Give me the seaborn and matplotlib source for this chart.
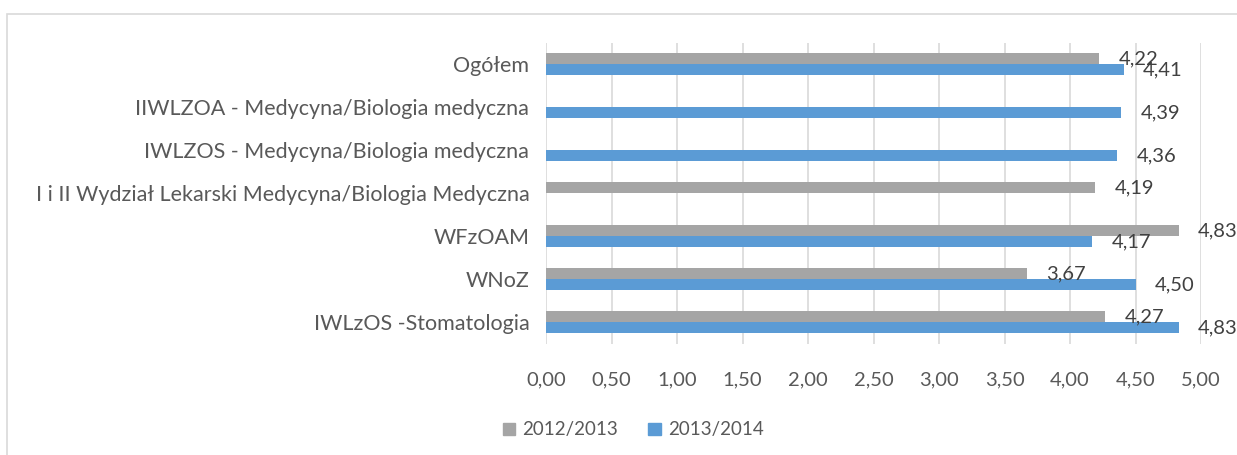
import pandas as pd
import matplotlib.pyplot as plt
import seaborn as sns
from matplotlib.patches import Rectangle

sns.set_style("white")
plt.rcParams["font.family"] = ["Lato", "DejaVu Sans"]

CATEGORIES = [
    "Ogółem",
    "IIWLZOA - Medycyna/Biologia medyczna",
    "IWLZOS - Medycyna/Biologia medyczna",
    "I i II Wydział Lekarski Medycyna/Biologia Medyczna",
    "WFzOAM",
    "WNoZ",
    "IWLzOS -Stomatologia",
]
YEARS = ["2012/2013", "2013/2014"]
VALUES_2012 = [4.22, None, None, 4.19, 4.83, 3.67, 4.27]
VALUES_2013 = [4.41, 4.39, 4.36, None, 4.17, 4.50, 4.83]
COLORS = {"2012/2013": "#A5A5A5", "2013/2014": "#5B9BD5"}
TEXT = "#595959"

rows = []
for cat, v1, v2 in zip(CATEGORIES, VALUES_2012, VALUES_2013):
    rows.append({"kat": cat, "rok": YEARS[0], "wartosc": v1})
    rows.append({"kat": cat, "rok": YEARS[1], "wartosc": v2})
df = pd.DataFrame(rows).dropna()


def comma(v):
    return f"{v:.2f}".replace(".", ",")


fig = plt.figure(figsize=(12.37, 4.55), dpi=100)
ax = fig.add_axes([0.4414, 0.245, 0.5295, 0.6615])

sns.barplot(data=df, x="wartosc", y="kat", hue="rok", order=CATEGORIES,
            hue_order=YEARS, palette=COLORS, width=0.52, orient="h",
            saturation=1, edgecolor="none", ax=ax, legend=False)

for cont in ax.containers:
    ax.bar_label(cont, fmt=comma, padding=14, fontsize=14.5, color="#404040",
                 clip_on=False)

ax.set_xlim(0, 5)
ax.set_xticks([i * 0.5 for i in range(11)])
ax.set_xticklabels([comma(i * 0.5) for i in range(11)])
ax.set_xlabel("")
ax.set_ylabel("")
ax.tick_params(axis="both", length=0, colors=TEXT)
ax.tick_params(axis="x", pad=20, labelsize=14.5)
ax.tick_params(axis="y", pad=12, labelsize=15.5)
ax.grid(True, axis="x", color="#D9D9D9", linewidth=1.2)
ax.set_axisbelow(True)
for s in ax.spines.values():
    s.set_visible(False)

handles = [Rectangle((0, 0), 1, 1, color=COLORS[y]) for y in YEARS]
fig.legend(handles, YEARS, loc="center", bbox_to_anchor=(0.512, 0.055),
           ncol=2, frameon=False, fontsize=13.5, handlelength=0.65,
           handleheight=0.65, handletextpad=0.4, columnspacing=1.6,
           labelcolor=TEXT)

fig.add_artist(Rectangle((7 / 1237, -0.1), 1.2, 1 - 14 / 455 + 0.1,
                         transform=fig.transFigure, fill=False,
                         edgecolor="#D9D9D9", linewidth=1.2))

fig.savefig("out.png", dpi=100, facecolor="white")
plt.close(fig)
